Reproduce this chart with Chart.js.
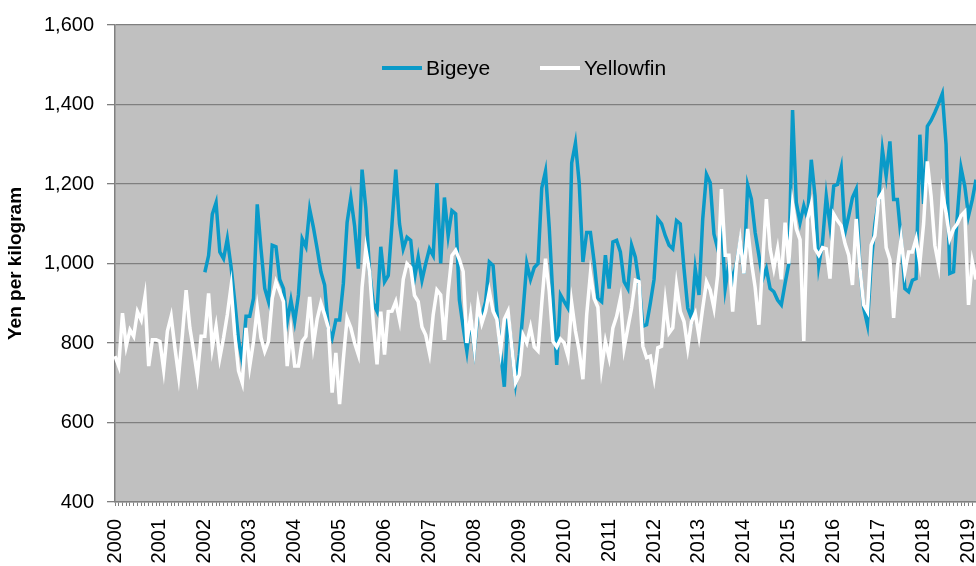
<!DOCTYPE html>
<html lang="en">
<head>
<meta charset="UTF-8">
<title>Bigeye and Yellowfin prices</title>
<script src="https://cdn.jsdelivr.net/npm/chart.js@4.4.1/dist/chart.umd.min.js"></script>
<style>
  html, body { margin: 0; padding: 0; background: #ffffff; }
  #wrap { position: relative; width: 976px; height: 566px; }
</style>
</head>
<body>
<div id="wrap"><canvas id="myChart" width="976" height="566"></canvas></div>
<script>
// Monthly prices, yen per kilogram, Jan 2000 - Mar 2019
const years = [2000, 2001, 2002, 2003, 2004, 2005, 2006, 2007, 2008, 2009,
  2010, 2011, 2012, 2013, 2014, 2015, 2016, 2017, 2018, 2019];

const yTicks = [400, 600, 800, 1000, 1200, 1400, 1600];

// Bigeye series starts in Jan 2002
const bigeyeStart = 24;
const bigeye = [
  978, 1020, 1124, 1153, 1029, 1012, 1062, 992, 904, 808, 754, 867,
  867, 912, 1149, 1037, 937, 904, 1046, 1042, 960, 937, 854, 908,
  854, 921, 1062, 1042, 1137, 1091, 1037, 979, 946, 837, 812, 858,
  858, 950, 1103, 1166, 1095, 987, 1236, 1140, 980, 900, 880, 1042,
  954, 970, 1100, 1236, 1100, 1037, 1066, 1058, 962, 1016, 958, 1000,
  1037, 1020, 1202, 1000, 1166, 1070, 1133, 1125, 908, 840, 779, 860,
  785, 880, 870, 904, 1004, 995, 880, 780, 690, 870, 790, 700,
  770, 880, 1000, 960, 990, 1000, 1190, 1232, 1090, 912, 745, 921,
  904, 888, 1253, 1303, 1203, 1004, 1078, 1078, 1004, 912, 904, 1021,
  937, 1054, 1058, 1029, 954, 937, 1046, 1016, 950, 842, 846, 900,
  960, 1112, 1100, 1070, 1046, 1037, 1108, 1100, 987, 888, 862, 987,
  921, 1112, 1224, 1203, 1074, 1037, 1103, 937, 1000, 958, 1000, 1054,
  975, 1197, 1162, 1078, 1021, 960, 987, 937, 929, 908, 896, 950,
  1000, 1386, 1153, 1103, 1145, 1112, 1261, 1170, 995, 1054, 1170, 1095,
  1195, 1199, 1241, 1078, 1120, 1166, 1187, 987, 888, 846, 1000, 1100,
  1160, 1286, 1220, 1307, 1161, 1161, 1062, 937, 929, 958, 962, 1324,
  1150, 1345, 1360, 1380, 1402, 1427, 1300, 975, 979, 1120, 1241, 1195,
  1120, 1160, 1211
];

const yellowfin = [
  767, 742, 875, 792, 833, 817, 879, 858, 916, 742, 808, 808,
  804, 733, 830, 867, 788, 717, 820, 933, 838, 780, 717, 817,
  817, 925, 788, 842, 763, 813, 871, 942, 821, 730, 700, 838,
  742, 804, 888, 813, 779, 804, 912, 954, 930, 904, 742, 829,
  742, 742, 804, 817, 916, 796, 860, 900, 871, 838, 675, 775,
  646, 760, 862, 838, 800, 771, 940, 1037, 979, 850, 746, 879,
  771, 879, 880, 904, 858, 960, 1000, 990, 920, 904, 840, 820,
  775, 871, 933, 921, 808, 930, 1020, 1033, 1010, 980, 800, 870,
  790, 900, 850, 880, 930, 880, 860, 780, 860, 880, 790, 700,
  720, 820, 800, 840, 790, 780, 900, 1012, 930, 804, 790, 810,
  800, 767, 900, 830, 780, 709, 871, 975, 912, 890, 738, 804,
  763, 838, 867, 912, 788, 838, 888, 958, 954, 792, 763, 767,
  713, 788, 792, 904, 825, 838, 946, 879, 854, 788, 854, 875,
  817, 888, 954, 933, 888, 971, 1187, 1021, 1021, 879, 996, 1058,
  975, 1087, 1004, 940, 846, 1000, 1162, 1037, 987, 1037, 960, 1103,
  1000, 1149, 1087, 1060, 805, 1112, 1149, 1037, 1021, 1040, 1037, 962,
  1124, 1108, 1095, 1050, 1021, 946, 1112, 987, 896, 879, 1046, 1070,
  1162, 1178, 1040, 1010, 863, 990, 1062, 979, 1029, 1029, 1062, 1000,
  1100, 1257, 1170, 1046, 996, 1178, 1128, 1062, 1087, 1100, 1120, 1130,
  896, 1005, 960
];

const fontFamily = '"Liberation Sans", Arial, Helvetica, sans-serif';

// month labels, e.g. 2000-01
const labels = yellowfin.map((v, i) =>
  years[Math.floor(i / 12)] + '-' + String(i % 12 + 1).padStart(2, '0'));

const bigeyeSeries = labels.map((l, i) =>
  i < bigeyeStart ? null : (bigeye[i - bigeyeStart] ?? null));

// grey fill behind the plot area only
const plotBackground = {
  id: 'plotBackground',
  beforeDraw(chart) {
    const { ctx, chartArea: a } = chart;
    ctx.save();
    ctx.fillStyle = '#c0c0c0';
    ctx.fillRect(a.left, a.top, a.right - a.left, a.bottom - a.top);
    ctx.restore();
  }
};

// legend sits inside the plot, near the top
const insideLegend = {
  id: 'insideLegend',
  afterDraw(chart) {
    const ctx = chart.ctx;
    const items = [
      { ds: chart.data.datasets[0], x: 382 },
      { ds: chart.data.datasets[1], x: 540 }
    ];
    ctx.save();
    ctx.font = '21px ' + fontFamily;
    ctx.textBaseline = 'alphabetic';
    ctx.textAlign = 'left';
    items.forEach(item => {
      ctx.strokeStyle = item.ds.borderColor;
      ctx.lineWidth = 4;
      ctx.beginPath();
      ctx.moveTo(item.x, 68);
      ctx.lineTo(item.x + 40, 68);
      ctx.stroke();
      ctx.fillStyle = '#000000';
      ctx.fillText(item.ds.label, item.x + 44, 75);
    });
    ctx.restore();
  }
};

const ctx = document.getElementById('myChart').getContext('2d');
new Chart(ctx, {
  type: 'line',
  data: {
    labels: labels,
    datasets: [
      {
        label: 'Bigeye',
        data: bigeyeSeries,
        borderColor: '#0a9ac8',
        borderWidth: 3.5,
        pointRadius: 0,
        tension: 0,
        order: 1
      },
      {
        label: 'Yellowfin',
        data: yellowfin,
        borderColor: '#ffffff',
        borderWidth: 3.5,
        pointRadius: 0,
        tension: 0,
        order: 0
      }
    ]
  },
  options: {
    responsive: false,
    devicePixelRatio: 1,
    animation: false,
    layout: { padding: { top: 20, right: 0, bottom: 0, left: 0 } },
    plugins: {
      legend: { display: false },
      tooltip: { enabled: false }
    },
    scales: {
      x: {
        type: 'category',
        offset: false,
        afterFit(scale) {
          scale.height = 64;
          // plot runs to the right edge, as in the source
          scale.paddingLeft = 0;
          scale.paddingRight = 0;
        },
        grid: {
          display: true,
          drawOnChartArea: false,
          drawTicks: true,
          tickLength: 4,
          color: '#808080',
          lineWidth: 1
        },
        border: { display: true, color: '#808080', width: 1.5 },
        ticks: {
          autoSkip: false,
          minRotation: 90,
          maxRotation: 90,
          padding: 13,
          color: '#000000',
          font: { family: fontFamily, size: 20 },
          callback: function (value, index) {
            return index % 12 === 0 ? String(years[index / 12]) : '';
          }
        }
      },
      y: {
        min: 400,
        max: 1600,
        afterFit(scale) { scale.width = 115; },
        afterBuildTicks(scale) { scale.ticks = yTicks.map(v => ({ value: v })); },
        grid: {
          color: '#7f7f7f',
          lineWidth: 1.3,
          drawTicks: true,
          tickLength: 8
        },
        border: { display: true, color: '#808080', width: 1.5 },
        ticks: {
          padding: 13,
          color: '#000000',
          font: { family: fontFamily, size: 20 },
          callback: v => v.toLocaleString('en-US')
        },
        title: {
          display: true,
          text: 'Yen per kilogram',
          color: '#000000',
          font: { family: fontFamily, size: 19, weight: 'bold' },
          padding: { top: 4, bottom: 4 }
        }
      }
    }
  },
  plugins: [plotBackground, insideLegend]
});
</script>
</body>
</html>
